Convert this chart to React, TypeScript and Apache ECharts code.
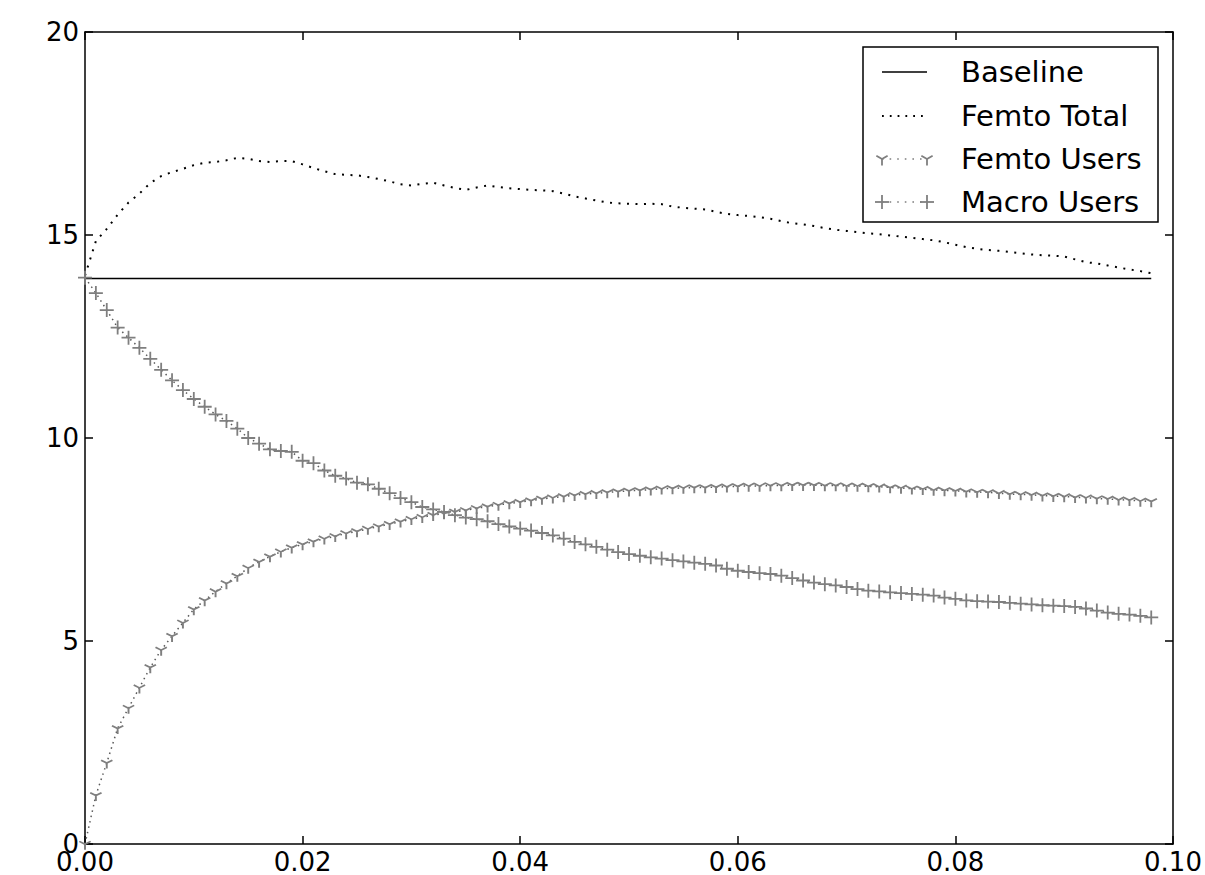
import React, { useEffect, useRef } from "react";
import * as echarts from "echarts";

const xStep = 0.001;
const pointCount = 99;
const xValues: number[] = Array.from({ length: pointCount }, (_, i) => +(i * xStep).toFixed(3));

const baselineValue = 13.93;
const baselineRange = [0, 0.098];

const femtoTotal = [
  14.0, 14.85, 15.15, 15.5, 15.8, 16.02, 16.28, 16.45, 16.55, 16.63,
  16.72, 16.78, 16.8, 16.84, 16.9, 16.88, 16.82, 16.8, 16.82, 16.82,
  16.74, 16.65, 16.57, 16.5, 16.48, 16.47, 16.43, 16.38, 16.32, 16.25,
  16.22, 16.26, 16.29, 16.22, 16.16, 16.11, 16.17, 16.22, 16.18, 16.15,
  16.13, 16.11, 16.1, 16.08, 16.02, 15.95, 15.9, 15.85, 15.8, 15.78,
  15.77, 15.76, 15.77, 15.76, 15.7, 15.67, 15.65, 15.63, 15.57, 15.52,
  15.49, 15.47, 15.44, 15.4, 15.34, 15.29, 15.26, 15.22, 15.17, 15.13,
  15.1, 15.07, 15.04, 15.02, 14.99, 14.96, 14.93, 14.9, 14.87, 14.82,
  14.76, 14.7, 14.66, 14.63, 14.61, 14.58, 14.55, 14.52, 14.5, 14.49,
  14.47, 14.4, 14.33, 14.3, 14.25, 14.2, 14.15, 14.11, 14.06,
];

const femtoUsers = [
  0, 1.2, 2.0, 2.85, 3.35, 3.85, 4.35, 4.78, 5.12, 5.45,
  5.78, 6.0, 6.22, 6.42, 6.6, 6.8, 6.95, 7.08, 7.2, 7.3,
  7.38, 7.45, 7.52, 7.58, 7.65, 7.7, 7.76, 7.82, 7.88, 7.94,
  8.0, 8.05, 8.1, 8.14, 8.18, 8.22, 8.27, 8.31, 8.35, 8.39,
  8.42, 8.46, 8.5, 8.53, 8.56, 8.59, 8.62, 8.64, 8.66, 8.68,
  8.7, 8.71, 8.73, 8.75, 8.76, 8.77, 8.78, 8.78, 8.79, 8.8,
  8.81, 8.82, 8.82, 8.83, 8.83, 8.84, 8.84, 8.84, 8.83, 8.83,
  8.82, 8.82, 8.81, 8.8, 8.78, 8.77, 8.75, 8.74, 8.72, 8.71,
  8.7, 8.68, 8.67, 8.66, 8.64, 8.62, 8.61, 8.6, 8.58, 8.57,
  8.56, 8.54, 8.53, 8.51, 8.5, 8.48, 8.47, 8.45, 8.44,
];

const macroUsers = [
  13.95, 13.57, 13.15, 12.72, 12.47, 12.22, 11.95, 11.68, 11.42, 11.18,
  10.96, 10.77, 10.58, 10.42, 10.23, 10.0, 9.86, 9.72, 9.68, 9.66,
  9.44, 9.38, 9.2, 9.07, 9.0, 8.9, 8.86, 8.75, 8.64, 8.52,
  8.42, 8.3, 8.24, 8.18, 8.1, 8.04, 8.0, 7.95, 7.88, 7.82,
  7.77, 7.72, 7.66, 7.6, 7.52, 7.44, 7.38, 7.32, 7.25, 7.19,
  7.14, 7.1, 7.06, 7.03, 6.99, 6.96, 6.93, 6.9, 6.86, 6.78,
  6.73, 6.7, 6.67, 6.65, 6.61, 6.55, 6.49, 6.44, 6.4, 6.37,
  6.33, 6.28, 6.24, 6.22, 6.2, 6.18, 6.16, 6.14, 6.12, 6.07,
  6.04, 6.0, 5.98, 5.97, 5.96, 5.94, 5.92, 5.9, 5.88, 5.87,
  5.86, 5.84, 5.8, 5.75, 5.7, 5.67, 5.65, 5.62, 5.58,
];

const legendLabels = ["Baseline", "Femto Total", "Femto Users", "Macro Users"];

const FONT = "DejaVu Sans";
const GRAY = "#7f7f7f";
const LINE_GRAY = "#5a5a5a";

const plusPath = "path://M0,-5 L0,5 M-5,0 L5,0";
const triPath = "path://M0,0 L0,5 M0,0 L-4.33,-2.5 M0,0 L4.33,-2.5";

function pairs(ys: number[]) {
  return ys.map((y, i) => [xValues[i], y]);
}

function triMarker(cx: number, cy: number) {
  const s = 6.5;
  const st = { stroke: GRAY, lineWidth: 1.8 };
  return [
    { type: "line", shape: { x1: cx, y1: cy, x2: cx, y2: cy + s }, style: st, z: 102 },
    { type: "line", shape: { x1: cx, y1: cy, x2: cx - 0.866 * s, y2: cy - 0.5 * s }, style: st, z: 102 },
    { type: "line", shape: { x1: cx, y1: cy, x2: cx + 0.866 * s, y2: cy - 0.5 * s }, style: st, z: 102 },
  ];
}
function plusMarker(cx: number, cy: number) {
  const s = 7;
  const st = { stroke: GRAY, lineWidth: 1.8 };
  return [
    { type: "line", shape: { x1: cx - s, y1: cy, x2: cx + s, y2: cy }, style: st, z: 102 },
    { type: "line", shape: { x1: cx, y1: cy - s, x2: cx, y2: cy + s }, style: st, z: 102 },
  ];
}

export default function App() {
  const ref = useRef<HTMLDivElement>(null);
  useEffect(() => {
    if (!ref.current) return;
    const chart = echarts.init(ref.current, undefined, { renderer: "svg" });

    const axisCommon = {
      axisLine: { show: true, onZero: false, lineStyle: { color: "#000", width: 1.5 } },
      axisTick: { show: true, inside: true, length: 8, lineStyle: { color: "#000", width: 1.5 } },
      splitLine: { show: false },
    };

    const lx1 = 882, lx2 = 927, tx = 961;
    const rows = [72, 116, 159, 202];
    const legendEls: any[] = [
      { type: "rect", shape: { x: 863, y: 47, width: 295, height: 175 }, style: { fill: "#fff", stroke: "#000", lineWidth: 1.5 }, z: 100 },
      { type: "line", shape: { x1: lx1, y1: rows[0], x2: lx2, y2: rows[0] }, style: { stroke: "#000", lineWidth: 1.6 }, z: 101 },
      { type: "line", shape: { x1: lx1, y1: rows[1], x2: lx2, y2: rows[1] }, style: { stroke: "#000", lineWidth: 1.8, lineDash: [1.8, 6] }, z: 101 },
      { type: "line", shape: { x1: lx1, y1: rows[2], x2: lx2, y2: rows[2] }, style: { stroke: GRAY, lineWidth: 1.6, lineDash: [1.6, 6] }, z: 101 },
      { type: "line", shape: { x1: lx1, y1: rows[3], x2: lx2, y2: rows[3] }, style: { stroke: GRAY, lineWidth: 1.6, lineDash: [1.6, 6] }, z: 101 },
      ...triMarker(lx1, rows[2]),
      ...triMarker(lx2, rows[2]),
      ...plusMarker(lx1, rows[3]),
      ...plusMarker(lx2, rows[3]),
      ...legendLabels.map((t, i) => ({
        type: "text",
        x: tx,
        y: rows[i],
        style: { text: t, font: `29px "${FONT}"`, fill: "#000", textVerticalAlign: "middle", textAlign: "left" },
        z: 102,
      })),
    ];

    chart.setOption({
      animation: false,
      backgroundColor: "#fff",
      textStyle: { fontFamily: FONT },
      grid: { left: 85, right: 32, top: 32, bottom: 25, containLabel: false },
      xAxis: [
        {
          type: "value", position: "bottom", min: 0, max: 0.1, interval: 0.02,
          ...axisCommon,
          axisLabel: { show: true, color: "#000", fontSize: 26, fontFamily: FONT, margin: 5, formatter: (v: number) => v.toFixed(2) },
        },
        {
          type: "value", position: "top", min: 0, max: 0.1, interval: 0.02,
          ...axisCommon,
          axisLabel: { show: false },
        },
      ],
      yAxis: [
        {
          type: "value", position: "left", min: 0, max: 20, interval: 5,
          ...axisCommon,
          axisLabel: { show: true, color: "#000", fontSize: 26, fontFamily: FONT, margin: 6 },
        },
        {
          type: "value", position: "right", min: 0, max: 20, interval: 5,
          ...axisCommon,
          axisLabel: { show: false },
        },
      ],
      graphic: legendEls,
      series: [
        {
          name: legendLabels[0], type: "line", xAxisIndex: 0, yAxisIndex: 0,
          data: [[baselineRange[0], baselineValue], [baselineRange[1], baselineValue]],
          showSymbol: false, symbol: "none",
          lineStyle: { color: "#000", width: 1.6 },
        },
        {
          name: legendLabels[1], type: "line", xAxisIndex: 0, yAxisIndex: 0,
          data: pairs(femtoTotal),
          showSymbol: false, symbol: "none",
          lineStyle: { color: "#000", width: 2, type: [2, 6.5] },
        },
        {
          name: legendLabels[2], type: "line", xAxisIndex: 0, yAxisIndex: 0,
          data: pairs(femtoUsers),
          symbol: triPath, symbolSize: [11.3, 9.75], symbolOffset: [0, 1.6], symbolKeepAspect: true,
          showAllSymbol: true,
          itemStyle: { color: "transparent", borderColor: GRAY, borderWidth: 1.8 },
          lineStyle: { color: LINE_GRAY, width: 1.5, type: [1.5, 4] },
        },
        {
          name: legendLabels[3], type: "line", xAxisIndex: 0, yAxisIndex: 0,
          data: pairs(macroUsers),
          symbol: plusPath, symbolSize: 14, symbolKeepAspect: true,
          showAllSymbol: true,
          itemStyle: { color: "transparent", borderColor: GRAY, borderWidth: 1.8 },
          lineStyle: { color: LINE_GRAY, width: 1.5, type: [1.5, 4] },
        },
      ],
    });
    return () => chart.dispose();
  }, []);
  return (
    <div
      ref={ref}
      style={{ position: "absolute", left: 0, top: 0, width: 1205, height: 875, background: "#fff" }}
    />
  );
}
